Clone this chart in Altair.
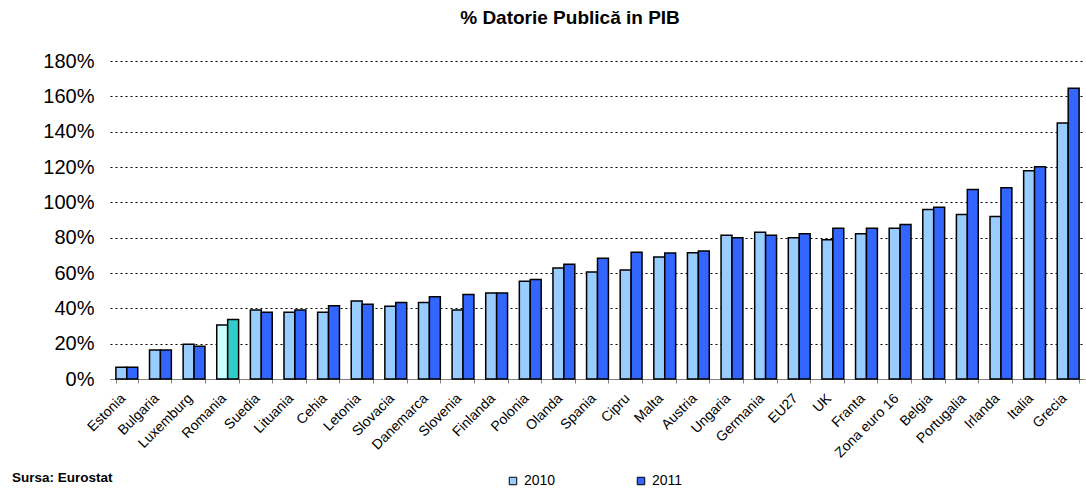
import altair as alt
import pandas as pd

countries = ["Estonia", "Bulgaria", "Luxemburg", "Romania", "Suedia", "Lituania", "Cehia",
             "Letonia", "Slovacia", "Danemarca", "Slovenia", "Finlanda", "Polonia", "Olanda",
             "Spania", "Cipru", "Malta", "Austria", "Ungaria", "Germania", "EU27", "UK",
             "Franta", "Zona euro 16", "Belgia", "Portugalia", "Irlanda", "Italia", "Grecia"]
v2010 = [6.6, 16.4, 19.6, 30.5, 39.0, 37.8, 37.8, 44.2, 41.2, 43.3, 39.0, 48.7, 55.3, 62.8,
         60.6, 61.7, 69.0, 71.5, 81.3, 83.1, 80.0, 78.8, 82.2, 85.4, 96.0, 93.1, 92.0, 117.9, 144.9]
v2011 = [6.6, 16.4, 18.6, 33.7, 37.8, 39.0, 41.4, 42.3, 43.3, 46.5, 47.8, 48.7, 56.3, 64.9,
         68.3, 71.7, 71.3, 72.4, 80.0, 81.3, 82.2, 85.4, 85.4, 87.5, 97.2, 107.2, 108.2, 120.2, 164.6]
years = ["2010", "2011"]
highlight = "Romania"

rows = []
for c, a, b in zip(countries, v2010, v2011):
    for y, v in zip(years, (a, b)):
        key = ("R" + y) if c == highlight else y
        rows.append({"country": c, "year": y, "value": v, "key": key})
df = pd.DataFrame(rows)

FONT = "Liberation Sans"

bars = alt.Chart(df).mark_bar(stroke="black", strokeWidth=1.5).encode(
    x=alt.X("country:N", sort=countries, title=None,
            scale=alt.Scale(paddingInner=0.35, paddingOuter=0.175),
            axis=alt.Axis(labelAngle=-45, labelAlign="right", labelBaseline="middle",
                          labelFontSize=14, labelFont=FONT, labelColor="black",
                          labelPadding=13, labelOffset=-4, tickBand="extent", tickSize=4,
                          tickColor="#808080", domainColor="#808080", grid=False,
                          labelOverlap=False)),
    xOffset=alt.XOffset("year:N", sort=years,
                        scale=alt.Scale(paddingInner=0, paddingOuter=0)),
    y=alt.Y("value:Q", title=None,
            scale=alt.Scale(domain=[0, 180], nice=False),
            axis=alt.Axis(values=list(range(0, 181, 20)), labelExpr="datum.value + '%'",
                          labelFontSize=20, labelFont=FONT, labelColor="black",
                          labelPadding=16, ticks=False, domain=False,
                          grid=True, gridDash=[2, 3], gridColor="black", gridOpacity=1,
                          gridWidth=1)),
    color=alt.Color("key:N",
                    scale=alt.Scale(domain=["2010", "2011", "R2010", "R2011"],
                                    range=["#99CCFF", "#3366FF", "#CCFFFF", "#33CCCC"]),
                    legend=alt.Legend(values=["2010", "2011"], title=None, orient="none",
                                      legendX=396, legendY=413, direction="horizontal",
                                      columns=2, columnPadding=78, symbolType="square",
                                      symbolSize=56, symbolStrokeColor="black",
                                      symbolStrokeWidth=1, symbolOpacity=1,
                                      labelFontSize=14, labelFont=FONT, labelColor="black",
                                      labelOffset=4)),
)

title = alt.Chart(pd.DataFrame({"t": ["% Datorie Publică in PIB"]})).mark_text(
    font=FONT, fontSize=19, fontWeight="bold", color="black", align="center",
    baseline="middle").encode(text="t:N", x=alt.value(460), y=alt.value(-43))

source = alt.Chart(pd.DataFrame({"t": ["Sursa: Eurostat"]})).mark_text(
    font=FONT, fontSize=13.5, fontWeight="bold", color="black", align="left",
    baseline="middle").encode(text="t:N", x=alt.value(-98), y=alt.value(417))

chart = alt.layer(bars, title, source).properties(
    width=975, height=318,
    autosize=alt.AutoSizeParams(type="none"),
    padding={"left": 110, "top": 61, "right": 1, "bottom": 109},
    background="white",
).configure_view(stroke=None)

chart.save("out.html", embed_options={"renderer": "svg", "actions": False})
